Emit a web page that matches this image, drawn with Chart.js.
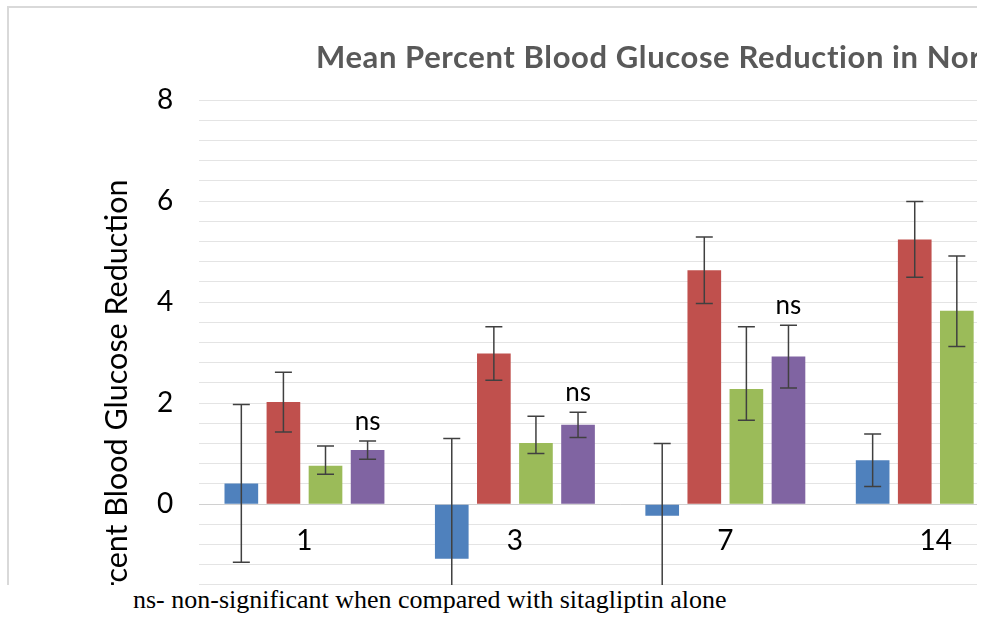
<!DOCTYPE html>
<html>
<head>
<meta charset="utf-8">
<script src="https://cdn.jsdelivr.net/npm/chart.js@4.4.1/dist/chart.umd.min.js"></script>
<style>
  html, body { margin: 0; padding: 0; background: #ffffff; }
  #clip { position: absolute; left: 0; top: 0; width: 977px; height: 585px; overflow: hidden; }
  #frame { position: absolute; left: 7px; top: 6px; width: 1200px; height: 800px;
           border-left: 2px solid #d9d9d9; border-top: 2px solid #d9d9d9; }
  #plot { position: absolute; left: 0; top: 0; }
  #title { position: absolute; left: 316px; top: 37px; white-space: nowrap; letter-spacing: 0.6px;
           font: bold 31px Lato, sans-serif; color: #595959; }
  #note { position: absolute; left: 133px; top: 585px; white-space: nowrap; line-height: 1;
          font: 26px "Liberation Serif", "Times New Roman", serif; color: #000; }
</style>
</head>
<body>
<div id="clip">
  <div id="frame"></div>
  <canvas id="plot" width="1060" height="749"></canvas>
  <div id="title">Mean Percent Blood Glucose Reduction in Normal Rats</div>
</div>
<div id="note">ns- non-significant when compared with sitagliptin alone</div>

<script>
// Days after dosing
const days = ['1', '3', '7', '14'];

// Mean percent reduction and error (up / down) for each treatment group
const blueMeans   = [0.41, -1.08, -0.23, 0.87];
const blueErr     = [1.56, 2.38, 1.43, 0.52];

const redMeans    = [2.02, 2.98, 4.63, 5.24];
const redErr      = [0.59, 0.53, 0.66, 0.75];

const greenMeans  = [0.76, 1.21, 2.28, 3.83];
const greenErrUp  = [0.39, 0.53, 1.23, 1.08];
const greenErrDn  = [0.17, 0.21, 0.62, 0.71];

const purpleMeans = [1.07, 1.57, 2.92, 4.33];
const purpleErr   = [0.18, 0.25, 0.62, 0.60];
const purpleNotes = ['ns', 'ns', 'ns', ''];

// Y axis: labelled every 2 units, gridlines every 0.4
const yMin = -4, yMax = 8, yLabelStep = 2, yGridStep = 0.4;

const FONT = 'Lato, "Open Sans", sans-serif';

const errorBars = {
  id: 'errorBars',
  afterDatasetsDraw(chart) {
    const { ctx, scales: { y } } = chart;
    const cap = 8.5;
    ctx.save();
    ctx.strokeStyle = '#404040';
    ctx.lineWidth = 1.5;
    chart.data.datasets.forEach((ds, i) => {
      const meta = chart.getDatasetMeta(i);
      meta.data.forEach((bar, j) => {
        const v = ds.data[j];
        const top = y.getPixelForValue(v + ds.errUp[j]);
        const bot = y.getPixelForValue(v - ds.errDown[j]);
        const x = bar.x;
        ctx.beginPath();
        ctx.moveTo(x, top); ctx.lineTo(x, bot);
        ctx.moveTo(x - cap, top); ctx.lineTo(x + cap, top);
        ctx.moveTo(x - cap, bot); ctx.lineTo(x + cap, bot);
        ctx.stroke();
        if (ds.notes && ds.notes[j]) {
          ctx.fillStyle = '#000';
          ctx.font = '26px ' + FONT;
          ctx.textAlign = 'center';
          ctx.textBaseline = 'alphabetic';
          ctx.fillText(ds.notes[j], x, top - 11);
        }
      });
    });
    ctx.restore();
  }
};

new Chart(document.getElementById('plot'), {
  type: 'bar',
  data: {
    labels: days,
    datasets: [
      { label: 'Series 1', data: blueMeans,   backgroundColor: '#4F81BD', errUp: blueErr,    errDown: blueErr },
      { label: 'Series 2', data: redMeans,    backgroundColor: '#C0504D', errUp: redErr,     errDown: redErr },
      { label: 'Series 3', data: greenMeans,  backgroundColor: '#9BBB59', errUp: greenErrUp, errDown: greenErrDn },
      { label: 'Series 4', data: purpleMeans, backgroundColor: '#8064A2', errUp: purpleErr,  errDown: purpleErr, notes: purpleNotes }
    ]
  },
  options: {
    responsive: false,
    animation: false,
    events: [],
    layout: { padding: { left: 36, top: 100, right: 19, bottom: 24 } },
    plugins: { legend: { display: false }, title: { display: false }, tooltip: { enabled: false } },
    datasets: { bar: { categoryPercentage: 0.8, barPercentage: 0.8, borderWidth: 0 } },
    scales: {
      x: {
        position: { y: 0 },
        grid: { color: 'rgba(0,0,0,0)', drawTicks: false },
        border: { display: true, color: '#d0d0d0', width: 1 },
        ticks: { font: { family: FONT, size: 28 }, color: '#000', padding: 20, maxRotation: 0, autoSkip: false }
      },
      y: {
        min: yMin,
        max: yMax,
        grid: { color: '#e4e4e4', lineWidth: 1, drawTicks: false },
        border: { display: false },
        ticks: {
          stepSize: yGridStep,
          maxTicksLimit: 100,
          autoSkip: false,
          padding: 26,
          color: '#000',
          font: { family: FONT, size: 28 },
          callback: (v) => {
            const k = v / yLabelStep;
            return Math.abs(k - Math.round(k)) < 1e-6 ? String(Math.round(v)) : '';
          }
        },
        title: {
          display: true,
          text: 'Percent Blood Glucose Reduction',
          color: '#000',
          font: { family: FONT, size: 30.5 },
          padding: { top: 63, bottom: -15 }
        }
      }
    }
  },
  plugins: [errorBars]
});
</script>
</body>
</html>
